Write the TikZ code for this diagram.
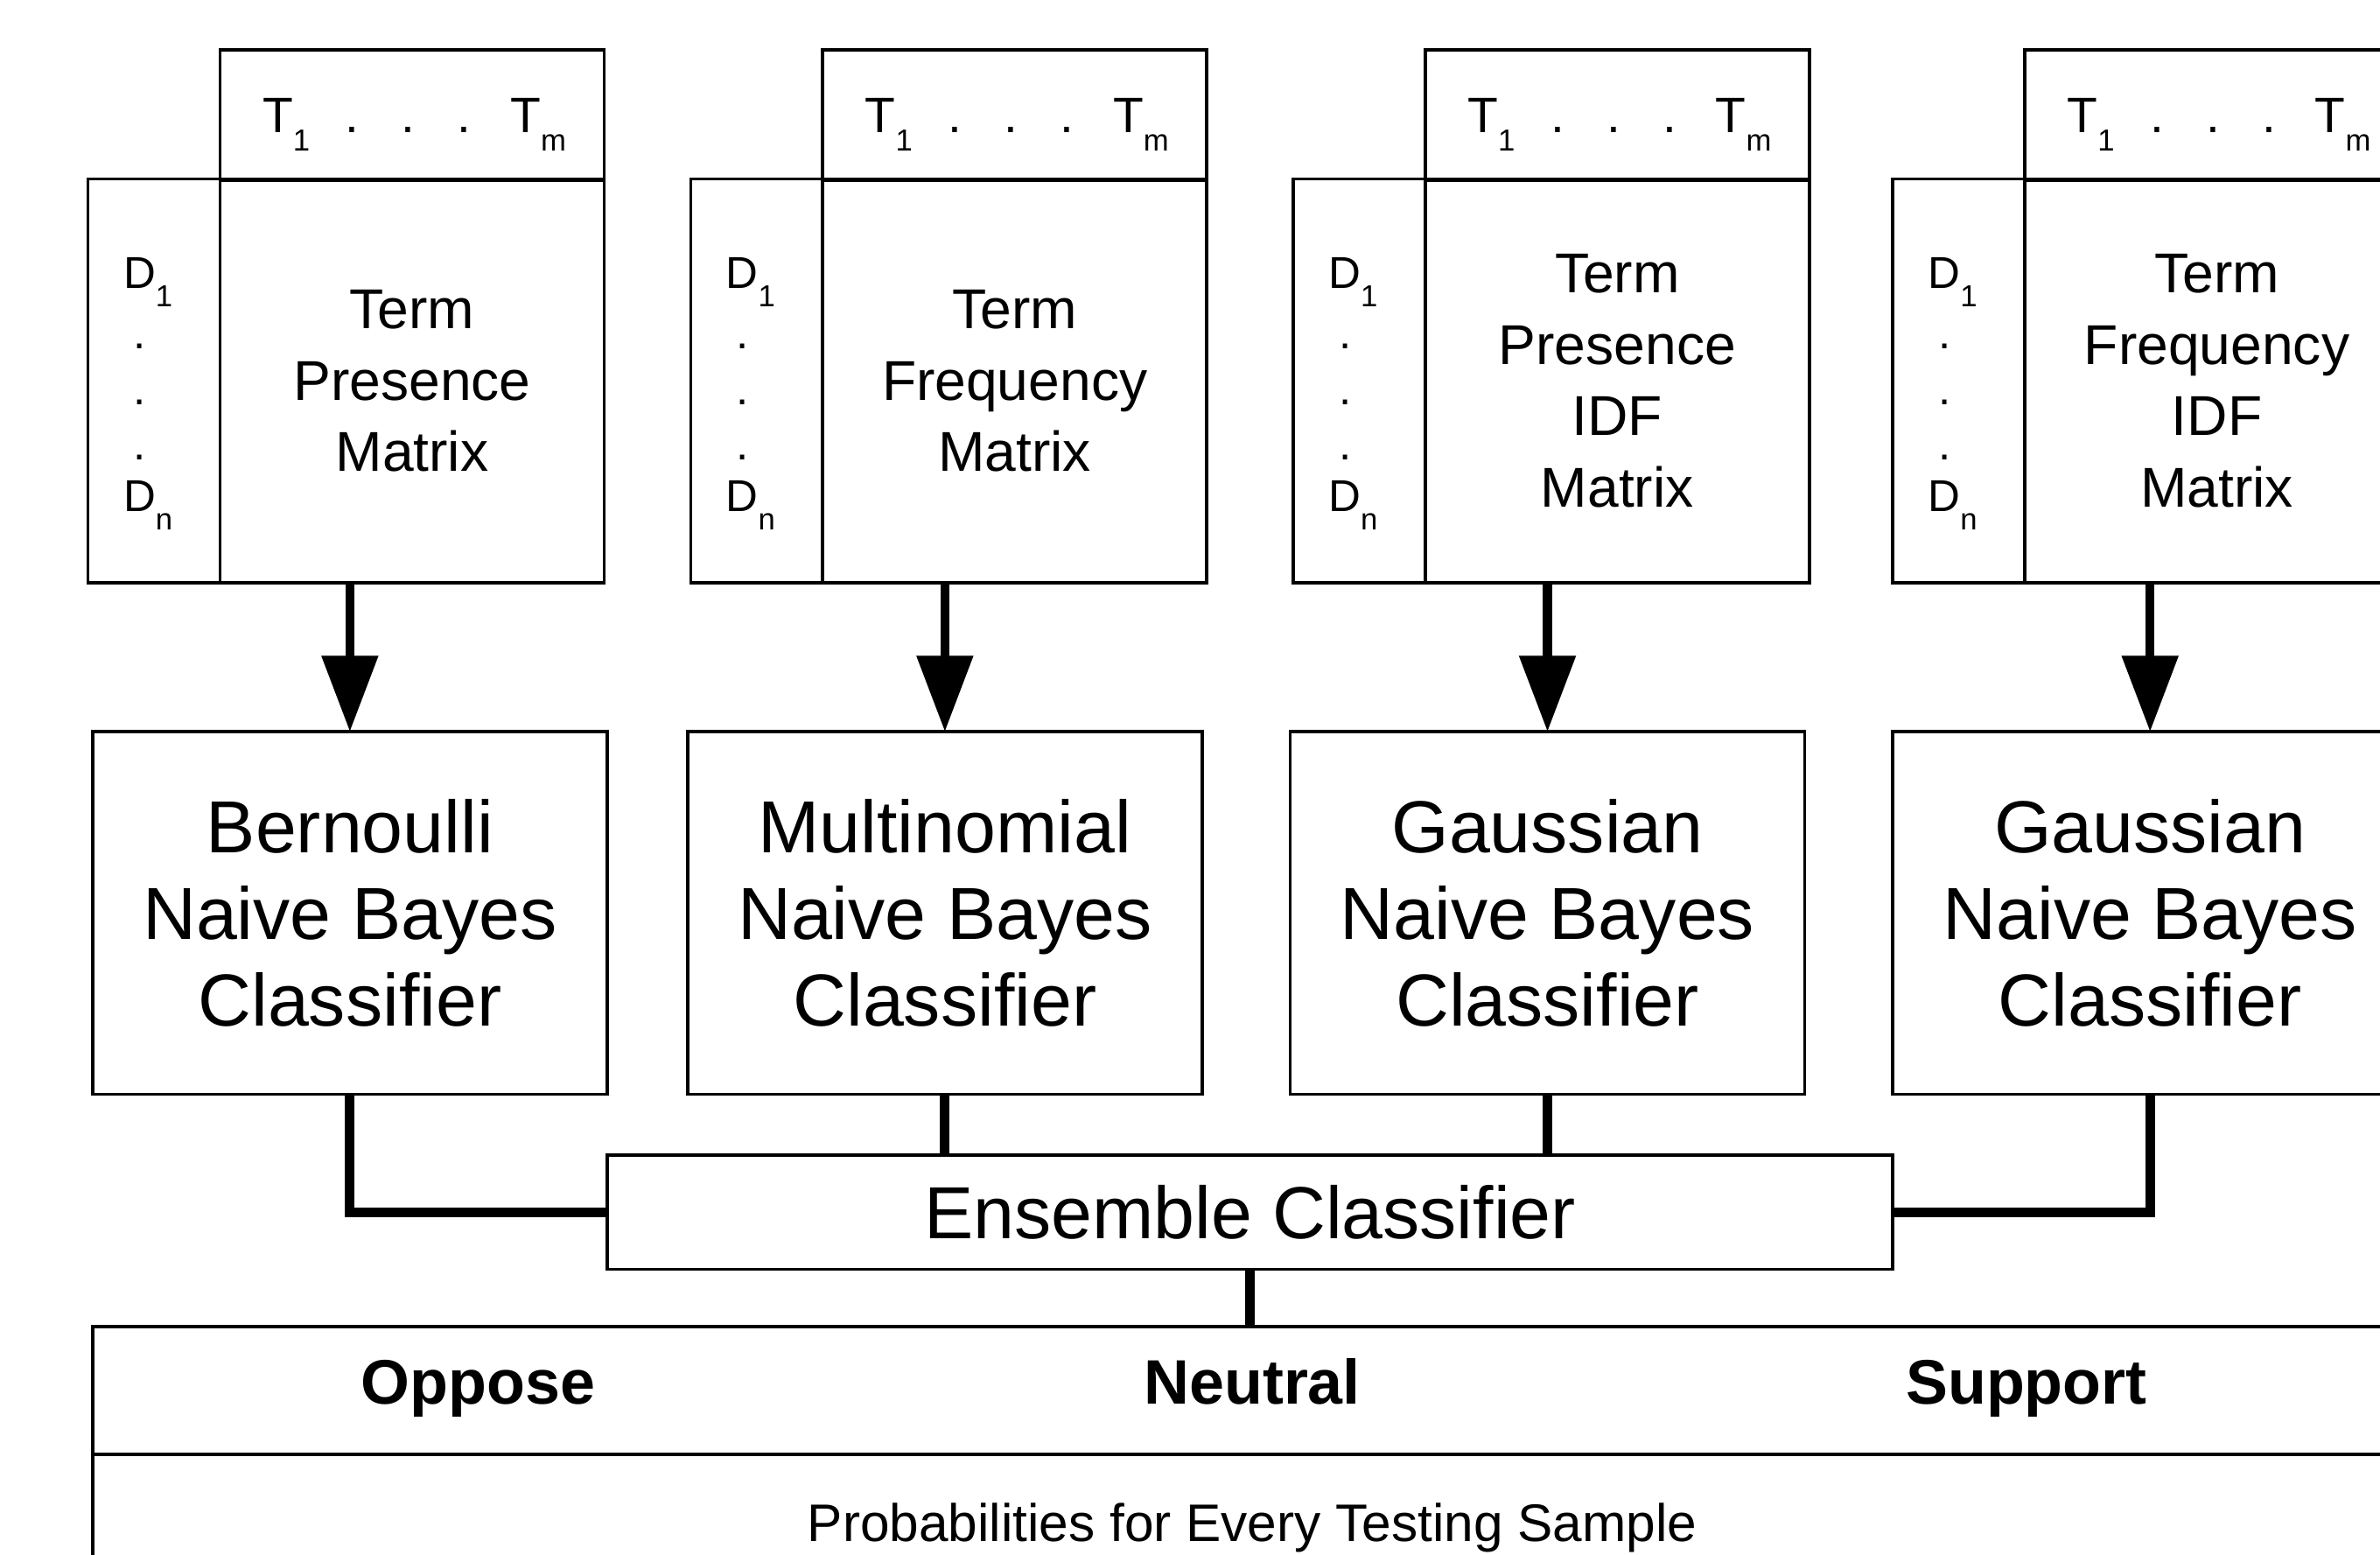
\documentclass[tikz,border=0pt]{standalone}
\usepackage{fontspec}
\setmainfont{Liberation Sans}
\usetikzlibrary{arrows.meta}
\newcommand\lowsub[1]{\raisebox{-6pt}{\fontsize{10}{10}\selectfont #1}}
\begin{document}
\begin{tikzpicture}[x=0.5pt,y=-0.5pt,
  box/.style={draw, line width=1pt, inner sep=0pt, outer sep=0pt, align=center},
  plain/.style={inner sep=0pt, outer sep=0pt},
  mtext/.style={font=\fontsize{18.5}{23.5}\selectfont},
  ctext/.style={font=\fontsize{24.3}{28.5}\selectfont},
  arr/.style={line width=3pt, -{Triangle[width=18pt,length=25pt]}},
  conn/.style={line width=3.2pt},
]
\useasboundingbox (0,0) rectangle (1568,1024);
\clip (0,0) rectangle (1568,1024);

% matrices
\foreach \i/\ox/\txt in {1/0/{Term\\Presence\\Matrix},
                         2/397/{Term\\Frequency\\Matrix},
                         3/794/{Term\\Presence\\IDF\\Matrix},
                         4/1189/{Term\\Frequency\\IDF\\Matrix}}{
  \node[box, minimum width=126.5pt, minimum height=43pt] (m\i-hdr) at (271.5+\ox,75.75) {};
  \node[box, minimum width=43.5pt, minimum height=133pt] (m\i-rows) at (101.5+\ox,251) {};
  \node[box, mtext, minimum width=126.5pt, minimum height=133pt] (m\i-main) at (271.5+\ox,251) {\txt};
  \node[plain, anchor=base west, font=\fontsize{16.4}{16.4}\selectfont] (m\i-terms) at (173+\ox,87.5)
    {T\lowsub{1}\hspace{11.7pt}.\hspace{13.9pt}.\hspace{13.9pt}.\hspace{12.9pt}T\lowsub{m}};
  \node[plain, anchor=base west, font=\fontsize{14.7}{14.7}\selectfont] (m\i-d1) at (81.3+\ox,190) {D\rlap{\lowsub{1}}};
  \node[plain, anchor=base west, font=\fontsize{14.7}{14.7}\selectfont] (m\i-dn) at (81.3+\ox,337) {D\rlap{\lowsub{n}}};
  \foreach \k/\yy in {a/230,b/266.5,c/303}{
    \node[plain, anchor=base west, font=\fontsize{14.7}{14.7}\selectfont] (m\i-dot\k) at (88+\ox,\yy) {.};
  }
}

% classifiers
\foreach \i/\ox/\txt in {1/0/{Bernoulli\\Naive Bayes\\Classifier},
                         2/392/{Multinomial\\Naive Bayes\\Classifier},
                         3/789/{Gaussian\\Naive Bayes\\Classifier},
                         4/1186/{Gaussian\\Naive Bayes\\Classifier}}{
  \node[box, ctext, minimum width=169.5pt, minimum height=119.5pt] (c\i) at (230.5+\ox,601.5) {\txt};
}

% ensemble
\node[box, ctext, minimum width=423.5pt, minimum height=37.5pt] (ens) at (823.5,798.5) {Ensemble Classifier};

% output table
\node[box, minimum width=763pt, minimum height=42pt] (cls) at (824,916) {};
\node[box, minimum width=763pt, minimum height=56pt] (prob) at (824,1014) {};
\node[plain, anchor=base, font=\fontsize{20.7}{20.7}\selectfont\bfseries] (oppose) at (315,925) {Oppose};
\node[plain, anchor=base, font=\fontsize{20.7}{20.7}\selectfont\bfseries] (neutral) at (825,925) {Neutral};
\node[plain, anchor=base, font=\fontsize{20.7}{20.7}\selectfont\bfseries] (support) at (1335,925) {Support};
\node[plain, anchor=base, font=\fontsize{17.4}{17.4}\selectfont] (probtxt) at (825,1015.5) {Probabilities for Every Testing Sample};

% arrows matrix -> classifier
\foreach \i in {1,2,3,4}{
  \draw[arr] (c\i.north |- m\i-main.south) -- (c\i.north);
}

% connectors to ensemble
\draw[conn] (c1.south) |- (ens.west);
\draw[conn] (c2.south) -- (c2.south |- ens.north);
\draw[conn] (c3.south) -- (c3.south |- ens.north);
\draw[conn] (c4.south) |- (ens.east);
\draw[conn] (ens.south) -- (ens.south |- cls.north);
\end{tikzpicture}
\end{document}
